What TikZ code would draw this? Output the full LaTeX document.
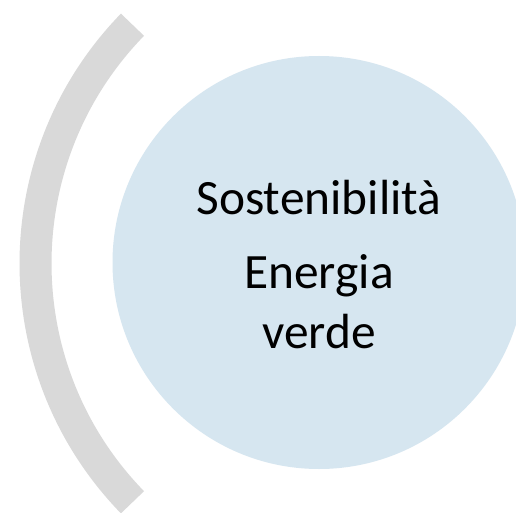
\documentclass[tikz,border=0pt]{standalone}
\usepackage{fontspec}
\setmainfont{Carlito}

\definecolor{bracketgray}{RGB}{217,217,217}
\definecolor{hubblue}{RGB}{214,230,240}

\begin{document}
\begin{tikzpicture}[x = 1pt, y = 1pt,
    label text/.style = {anchor = base, align = center, inner sep = 0,
        font = \fontsize{49.4}{60}\selectfont}]

    \def\width  {516}
    \def\height {512}

    % canvas
    \clip (0, 0) rectangle (\width, \height);
    \path [fill = white] (0, 0) rectangle (\width, \height);

    % bracket
    \draw [bracketgray, line width = 32, line cap = butt]
        (378, 248.5) ++(135.8 : 342.5) arc [start angle = 135.8, end angle = 224.2, radius = 342.5];

    % circle
    \node (hub) [circle, fill = hubblue, minimum size = 413, inner sep = 0] at (319, 249.5) {};

    % texts (base of a two-line node is its last line)
    \node (title) [label text] at (319, 298) {Sostenibilità};
    \node (topic) [label text] at (319, 164) {Energia\\verde};

\end{tikzpicture}
\end{document}
